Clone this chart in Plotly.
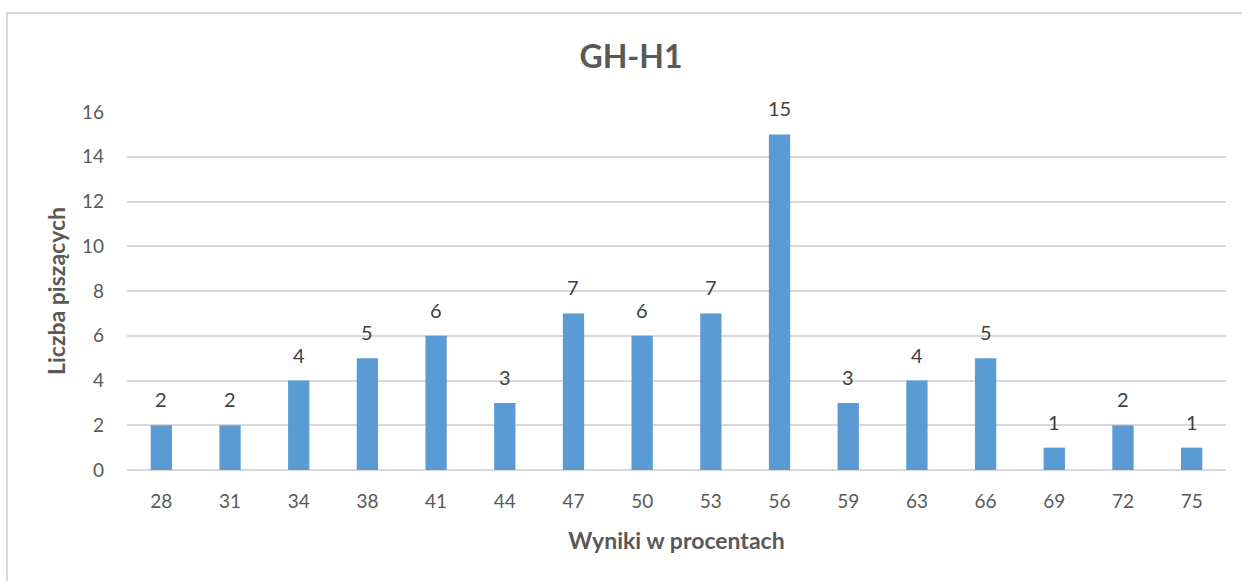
import plotly.graph_objects as go

categories = ["28", "31", "34", "38", "41", "44", "47", "50", "53", "56", "59", "63", "66", "69", "72", "75"]
counts = [2, 2, 4, 5, 6, 3, 7, 6, 7, 15, 3, 4, 5, 1, 2, 1]
y_ticks = [0, 2, 4, 6, 8, 10, 12, 14, 16]

title_text = "GH-H1"
x_title = "Wyniki w procentach"
y_title = "Liczba piszących"

FONT = "Lato, 'Open Sans', sans-serif"
W, H = 1242, 581
ML, MR, MT, MB = 127, 16, 112, 111
PW, PH = W - ML - MR, H - MT - MB

def px_x(p):
    return (p - ML) / PW

def px_y(p):
    return (H - MB - p) / PH

fig = go.Figure(
    go.Bar(
        x=categories,
        y=counts,
        marker=dict(color="#5B9BD5", line=dict(width=0)),
        hoverinfo="x+y",
    )
)

# data labels placed at each category index via the category axis
annotations = [
    dict(
        x=i,
        y=v,
        xref="x",
        yref="y",
        text=str(v),
        showarrow=False,
        yanchor="bottom",
        yshift=12,
        font=dict(family=FONT, size=20, color="#404040"),
    )
    for i, v in enumerate(counts)
]

fig.update_layout(
    width=W,
    height=H,
    margin=dict(l=ML, r=MR, t=MT, b=MB),
    paper_bgcolor="white",
    plot_bgcolor="white",
    bargap=0.69,
    showlegend=False,
    font=dict(family=FONT, color="#595959"),
    annotations=annotations,
    title=dict(
        text=title_text,
        x=631 / W,
        xanchor="center",
        y=1 - 57 / H,
        yanchor="middle",
        font=dict(family=FONT, size=32, color="#595959", weight="bold"),
    ),
    xaxis=dict(
        type="category",
        categoryorder="array",
        categoryarray=categories,
        range=[-0.5, len(categories) - 0.5],
        showgrid=False,
        showline=False,
        ticks="",
        tickfont=dict(family=FONT, size=19, color="#595959"),
        ticklabelstandoff=18,
        title=dict(
            text=x_title,
            font=dict(family=FONT, size=23, color="#595959", weight="bold"),
            standoff=21,
        ),
    ),
    yaxis=dict(
        range=[0, 16],
        tickvals=y_ticks,
        showgrid=True,
        gridcolor="#D9D9D9",
        gridwidth=1.5,
        zeroline=True,
        zerolinecolor="#D9D9D9",
        zerolinewidth=1.5,
        showline=False,
        ticks="",
        tickfont=dict(family=FONT, size=19, color="#595959"),
        ticklabelstandoff=22,
        title=dict(
            text=y_title,
            font=dict(family=FONT, size=23, color="#595959", weight="bold"),
            standoff=9,
        ),
    ),
    shapes=[
        dict(
            type="rect",
            xref="paper",
            yref="paper",
            x0=px_x(7),
            x1=px_x(1250),
            y0=px_y(600),
            y1=px_y(13),
            line=dict(color="#D9D9D9", width=2),
            fillcolor="rgba(0,0,0,0)",
            layer="below",
        )
    ],
)

fig.write_html(
    "out.html",
    config={"displayModeBar": False},
    post_script="document.body.style.margin='0';document.body.style.overflow='hidden';",
)
